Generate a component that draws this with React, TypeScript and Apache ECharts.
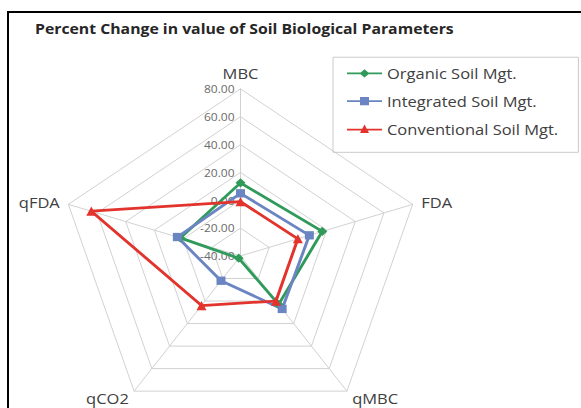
import React, { useEffect, useRef } from "react";
import * as echarts from "echarts";

// Indicator order as ECharts lays them out (counter-clockwise from the top)
const indicators = ["MBC", "qFDA", "qCO2", "qMBC", "FDA"];
const organic = [12.5, 2, -38, 3, 17];
const integrated = [5, 4, -18, 7, 8];
const conventional = [-1, 64, 4, 0, 0];
const seriesNames = ["Organic Soil Mgt.", "Integrated Soil Mgt.", "Conventional Soil Mgt."];
const axisMin = -40;
const axisMax = 80;
const splitCount = 6;
const titleText = "Percent Change in value of Soil Biological Parameters";

const W = 581;
const H = 442;
const SY = 408 / H;
const FONT = "'Open Sans', 'Liberation Sans', sans-serif";

const GREEN = "#2f9a5a";
const BLUE = "#6b85c3";
const RED = "#e2332c";

const legendIcons = [
  "path://M0,3.5H35V5.5H0Z M12.5,4.5L17.5,0L22.5,4.5L17.5,9Z",
  "path://M0,3.5H35V5.5H0Z M13,0H22V9H13Z",
  "path://M0,4.5H35V6.5H0Z M13,9L17.5,0L22,9Z",
];

export default function App() {
  const ref = useRef<HTMLDivElement>(null);
  useEffect(() => {
    if (!ref.current) return;
    const chart = echarts.init(ref.current, undefined, { renderer: "svg" });
    const colors = [GREEN, BLUE, RED];
    const symbols = ["diamond", "rect", "triangle"];
    const sizes = [10, 9, 10];
    const values = [organic, integrated, conventional];
    chart.setOption({
      animation: false,
      backgroundColor: "#ffffff",
      title: {
        text: titleText,
        left: 35,
        top: 23,
        padding: 0,
        textStyle: { fontFamily: FONT, fontSize: 15.8, fontWeight: "bold", color: "#262626" },
      },
      legend: {
        left: 333,
        top: 62,
        orient: "vertical",
        padding: [9, 20, 17, 14],
        itemGap: 13,
        itemWidth: 35,
        itemHeight: 9,
        borderColor: "#c8c8c8",
        borderWidth: 1,
        textStyle: { fontFamily: FONT, fontSize: 16.5, color: "#404040" },
        data: seriesNames.map((n, i) => ({ name: n, icon: legendIcons[i], itemStyle: { color: colors[i], borderWidth: 0 } })),
      },
      radar: {
        center: [240.5, 277.3],
        radius: 181,
        startAngle: 90,
        splitNumber: splitCount,
        shape: "polygon",
        nameGap: 9,
        axisName: { color: "#404040", fontFamily: FONT, fontSize: 16.5 },
        splitLine: { lineStyle: { color: "#cfcfcf", width: 1 } },
        splitArea: { show: false },
        axisLine: { lineStyle: { color: "#cfcfcf", width: 1 } },
        axisTick: { show: false },
        axisLabel: { show: false },
        indicator: indicators.map((name, i) => ({
          name,
          min: axisMin,
          max: axisMax,
          ...(i === 0
            ? {
                axisLabel: {
                  show: true,
                  color: "#6a6a6a",
                  fontFamily: FONT,
                  fontSize: 12,
                  margin: 6,
                  formatter: (v: number) => v.toFixed(2),
                },
              }
            : {}),
        })),
      },
      graphic: [
        {
          type: "rect",
          shape: { x: 8, y: 13, width: 700, height: 600 },
          style: { fill: "none", stroke: "#000", lineWidth: 2 },
          silent: true,
          z: 100,
        },
      ],
      series: [
        {
          type: "radar",
          data: values.map((v, i) => ({
            name: seriesNames[i],
            value: v,
            symbol: symbols[i],
            symbolSize: sizes[i],
            lineStyle: { color: colors[i], width: 3 },
            itemStyle: { color: colors[i] },
          })),
        },
      ],
    });
    return () => chart.dispose();
  }, []);
  return (
    <div
      style={{
        position: "absolute",
        left: 0,
        top: 0,
        width: W,
        height: H,
        transform: `scaleY(${SY})`,
        transformOrigin: "top left",
      }}
    >
      <div ref={ref} style={{ width: W, height: H }} />
    </div>
  );
}
